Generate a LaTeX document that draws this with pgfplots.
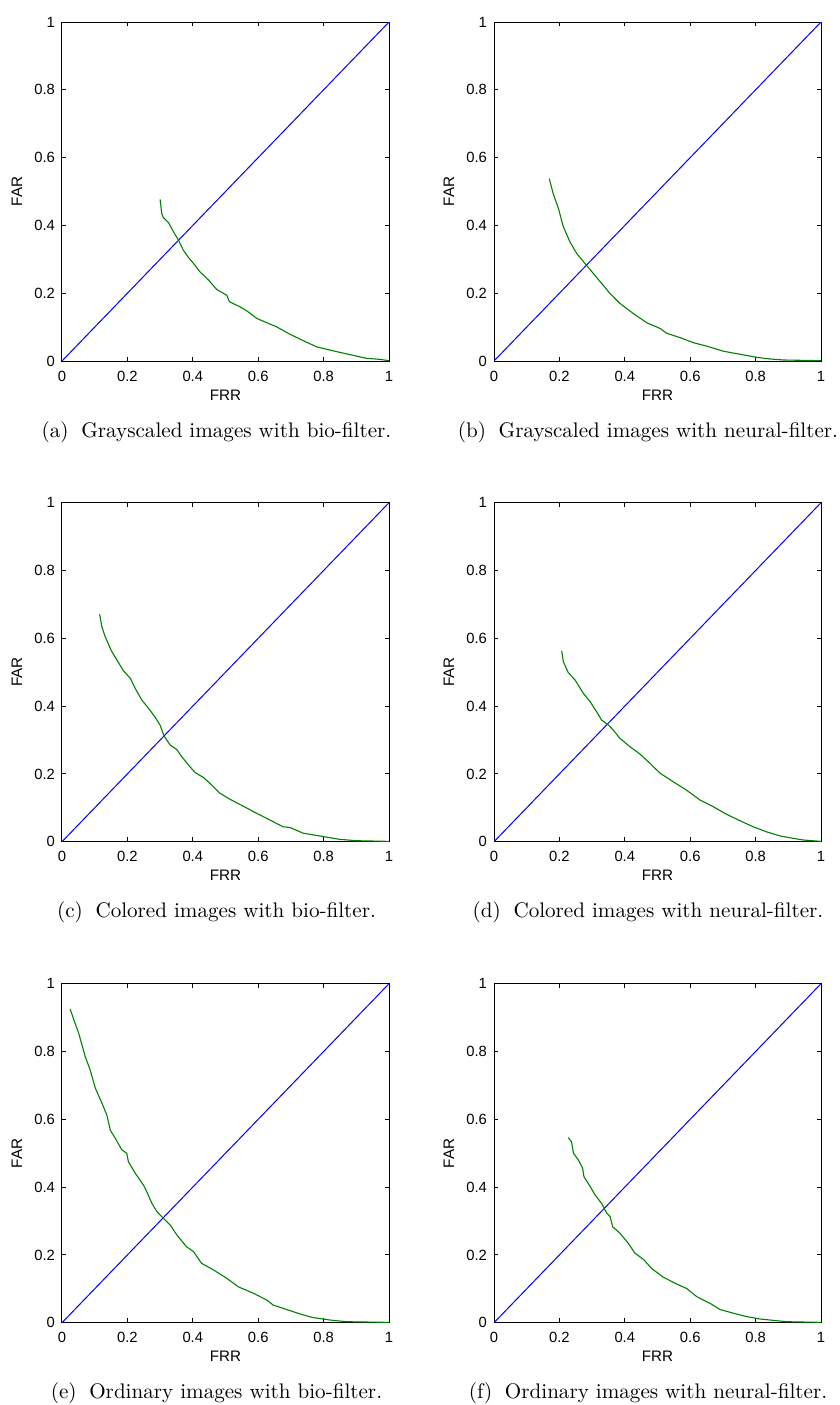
\documentclass[border=0pt]{standalone}
\usepackage{fontspec}
\setsansfont{Liberation Sans}
\usepackage{pgfplots}
\pgfplotsset{compat=1.18}
\definecolor{mblue}{rgb}{0,0,1}
\definecolor{mgreen}{rgb}{0,0.5,0}
\pgfplotsset{
  roc/.style={
    scale only axis, width=163.5pt, height=169.5pt, anchor=south west,
    xmin=0, xmax=1, ymin=0, ymax=1,
    xtick={0,0.2,0.4,0.6,0.8,1}, ytick={0,0.2,0.4,0.6,0.8,1},
    tick align=inside, major tick length=2.2pt,
    xtick pos=both, ytick pos=both,
    axis line style={line width=0.5pt},
    every tick/.style={black, line width=0.5pt},
    /pgf/number format/assume math mode=true,
    tick label style={font=\sffamily\fontsize{7.4}{8}\selectfont},
    xticklabel style={yshift=-1.4pt},
    every axis x label/.style={at={(axis description cs:0.5,-0.1003)},anchor=center,font=\sffamily\fontsize{7.6}{9}\selectfont},
    every axis y label/.style={at={(axis description cs:-0.1376,0.5)},rotate=90,anchor=center,font=\sffamily\fontsize{7.6}{9}\selectfont},
    xlabel={FRR}, ylabel={FAR},
  },
  diag/.style={mblue, line width=0.5pt},
  curve/.style={mgreen, line width=0.55pt},
}
\newcommand{\capfont}{\fontsize{10.55}{12}\selectfont}
\begin{document}
\begin{tikzpicture}
\useasboundingbox (0pt,0pt) rectangle (420pt,-702.5pt);
% (a)
\begin{axis}[roc, at={(31pt,-180.5pt)}]
\addplot[diag] coordinates {(0,0) (1,1)};
\addplot[curve] coordinates {
(0.300,0.477) (0.305,0.435) (0.310,0.423) (0.326,0.408) (0.341,0.381) (0.356,0.357)
(0.371,0.327) (0.387,0.305) (0.402,0.288) (0.422,0.263) (0.448,0.239) (0.473,0.211)
(0.504,0.194) (0.512,0.175) (0.544,0.160) (0.565,0.148) (0.595,0.126) (0.626,0.113)
(0.656,0.101) (0.697,0.079) (0.738,0.060) (0.778,0.042) (0.829,0.030) (0.880,0.019)
(0.931,0.008) (0.971,0.005) (1.0,0.001)};
\end{axis}
% (b)
\begin{axis}[roc, at={(247pt,-180.5pt)}]
\addplot[diag] coordinates {(0,0) (1,1)};
\addplot[curve] coordinates {
(0.169,0.538) (0.181,0.494) (0.197,0.450) (0.212,0.396) (0.232,0.352) (0.253,0.317)
(0.278,0.288) (0.304,0.258) (0.329,0.229) (0.355,0.199) (0.385,0.170) (0.426,0.140)
(0.467,0.113) (0.508,0.096) (0.528,0.082) (0.569,0.069) (0.610,0.054) (0.650,0.044)
(0.701,0.029) (0.752,0.020) (0.803,0.011) (0.844,0.006) (0.885,0.003) (1.0,0.001)};
\end{axis}
% (c)
\begin{axis}[roc, at={(31pt,-420.85pt)}]
\addplot[diag] coordinates {(0,0) (1,1)};
\addplot[curve] coordinates {
(0.115,0.671) (0.122,0.634) (0.132,0.605) (0.151,0.563) (0.168,0.536) (0.188,0.504)
(0.209,0.482) (0.224,0.452) (0.244,0.418) (0.265,0.393) (0.285,0.367) (0.300,0.344)
(0.312,0.312) (0.331,0.285) (0.351,0.272) (0.366,0.251) (0.387,0.226) (0.407,0.204)
(0.432,0.190) (0.458,0.167) (0.483,0.143) (0.514,0.125) (0.554,0.105) (0.595,0.084)
(0.636,0.064) (0.676,0.044) (0.697,0.042) (0.738,0.025) (0.788,0.017) (0.849,0.007)
(0.900,0.003) (1.0,0.001)};
\end{axis}
% (d)
\begin{axis}[roc, at={(247pt,-420.85pt)}]
\addplot[diag] coordinates {(0,0) (1,1)};
\addplot[curve] coordinates {
(0.207,0.563) (0.212,0.531) (0.227,0.499) (0.248,0.477) (0.273,0.438) (0.294,0.413)
(0.314,0.383) (0.329,0.359) (0.350,0.344) (0.365,0.329) (0.385,0.305) (0.416,0.280)
(0.446,0.259) (0.477,0.231) (0.508,0.202) (0.548,0.177) (0.589,0.152) (0.630,0.123)
(0.671,0.103) (0.711,0.081) (0.752,0.062) (0.793,0.044) (0.834,0.029) (0.875,0.017)
(0.915,0.010) (0.946,0.005) (1.0,0.001)};
\end{axis}
% (e)
\begin{axis}[roc, at={(31pt,-661.35pt)}]
\addplot[diag] coordinates {(0,0) (1,1)};
\addplot[curve] coordinates {
(0.025,0.925) (0.036,0.894) (0.051,0.854) (0.061,0.820) (0.071,0.785) (0.086,0.746)
(0.102,0.692) (0.122,0.648) (0.137,0.613) (0.148,0.567) (0.163,0.544) (0.183,0.510)
(0.198,0.500) (0.203,0.475) (0.224,0.441) (0.249,0.406) (0.259,0.387) (0.275,0.352)
(0.290,0.328) (0.310,0.308) (0.331,0.288) (0.351,0.259) (0.381,0.224) (0.402,0.210)
(0.427,0.175) (0.463,0.156) (0.504,0.131) (0.539,0.106) (0.585,0.087) (0.626,0.067)
(0.646,0.052) (0.687,0.039) (0.727,0.026) (0.768,0.015) (0.819,0.008) (0.870,0.003)
(1.0,0.001)};
\end{axis}
% (f)
\begin{axis}[roc, at={(247pt,-661.35pt)}]
\addplot[diag] coordinates {(0,0) (1,1)};
\addplot[curve] coordinates {
(0.227,0.546) (0.237,0.534) (0.243,0.500) (0.258,0.480) (0.271,0.456) (0.275,0.431)
(0.294,0.402) (0.309,0.377) (0.329,0.352) (0.345,0.323) (0.355,0.313) (0.363,0.283)
(0.385,0.264) (0.411,0.234) (0.431,0.205) (0.457,0.187) (0.482,0.160) (0.518,0.134)
(0.559,0.114) (0.589,0.101) (0.620,0.077) (0.661,0.057) (0.691,0.039) (0.732,0.028)
(0.773,0.018) (0.813,0.011) (0.864,0.006) (0.895,0.003) (1.0,0.001)};
\end{axis}
% captions
\node[font=\capfont, anchor=center] at (108.25pt,-216pt) {(a)\hspace{0.6em}Grayscaled images with bio-filter.};
\node[font=\capfont, anchor=center] at (324pt,-216pt) {(b)\hspace{0.6em}Grayscaled images with neural-filter.};
\node[font=\capfont, anchor=center] at (108.25pt,-456pt) {(c)\hspace{0.6em}Colored images with bio-filter.};
\node[font=\capfont, anchor=center] at (324pt,-456pt) {(d)\hspace{0.6em}Colored images with neural-filter.};
\node[font=\capfont, anchor=center] at (108.25pt,-696.5pt) {(e)\hspace{0.6em}Ordinary images with bio-filter.};
\node[font=\capfont, anchor=center] at (324pt,-696.5pt) {(f)\hspace{0.6em}Ordinary images with neural-filter.};
\end{tikzpicture}
\end{document}
